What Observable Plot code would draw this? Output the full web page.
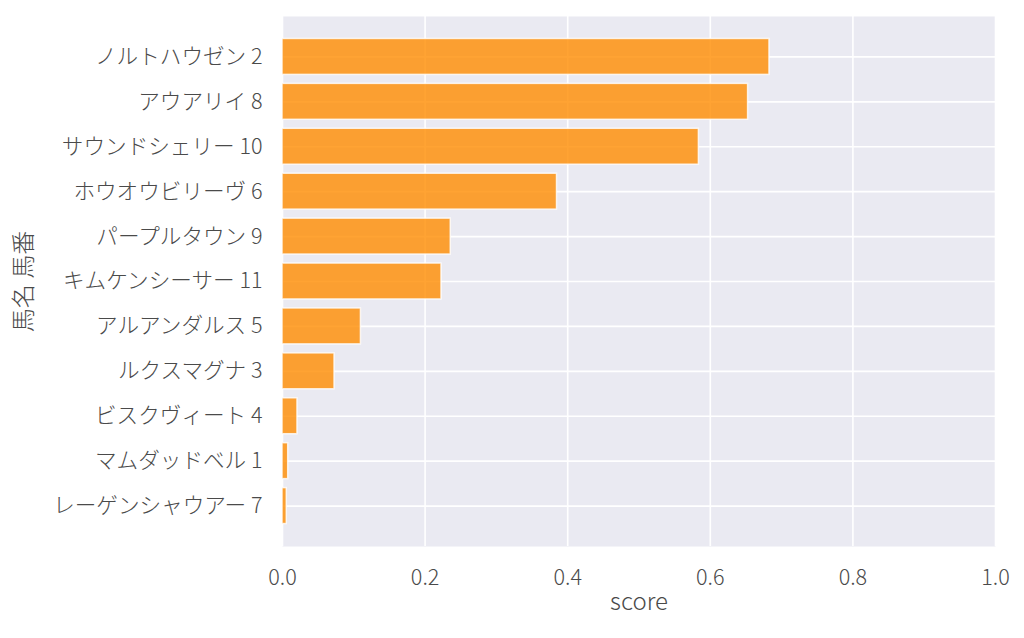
<!DOCTYPE html>
<html>
<head>
<meta charset="utf-8">
<script src="https://cdn.jsdelivr.net/npm/d3@7"></script>
<script src="https://cdn.jsdelivr.net/npm/@observablehq/plot@0.6"></script>
<style>
  html, body { margin: 0; padding: 0; background: white; }
  #chart { width: 1024px; height: 638px; }
</style>
</head>
<body>
<div id="chart"></div>
<script>
const horses = [
  "ノルトハウゼン 2",
  "アウアリイ 8",
  "サウンドシェリー 10",
  "ホウオウビリーヴ 6",
  "パープルタウン 9",
  "キムケンシーサー 11",
  "アルアンダルス 5",
  "ルクスマグナ 3",
  "ビスクヴィート 4",
  "マムダッドベル 1",
  "レーゲンシャウアー 7"
];
const scores = [0.683, 0.653, 0.584, 0.385, 0.236, 0.223, 0.110, 0.073, 0.021, 0.008, 0.006];
const xTicks = [0, 0.2, 0.4, 0.6, 0.8, 1.0];
const xLabel = "score";
const yLabel = "馬名 馬番";

const data = horses.map((h, i) => ({horse: h, score: scores[i]}));

const chart = Plot.plot({
  width: 1024,
  height: 638,
  marginLeft: 282,
  marginRight: 29,
  marginTop: 16,
  marginBottom: 92,
  style: {
    fontFamily: "'Noto Sans CJK JP Light', 'Noto Sans CJK JP DemiLight', 'Noto Sans CJK JP', sans-serif",
    fontSize: "21.6px",
    fontWeight: 300,
    color: "#4a4a4a",
    background: "white"
  },
  x: {domain: [0, 1]},
  y: {domain: horses, paddingInner: 0.2, paddingOuter: 0.5, round: false},
  marks: [
    Plot.frame({fill: "#EAEAF2", stroke: "none"}),
    Plot.gridX(xTicks, {stroke: "white", strokeOpacity: 1, strokeWidth: 1.6}),
    Plot.gridY(horses, {stroke: "white", strokeOpacity: 1, strokeWidth: 1.6}),
    Plot.barX(data, {x: "score", y: "horse", fill: "#ff8c00", fillOpacity: 0.8, stroke: "white", strokeOpacity: 0.8, strokeWidth: 1.5}),
    Plot.axisX(xTicks, {tickSize: 0, tickPadding: 23, tickFormat: d3.format(".1f"), label: null}),
    Plot.axisY({tickSize: 0, tickPadding: 20, label: null}),
    Plot.text([xLabel], {frameAnchor: "bottom", dy: 63, fontSize: 24, fill: "#4a4a4a"}),
    Plot.text([yLabel], {frameAnchor: "left", textAnchor: "middle", dx: -258, rotate: -90, fontSize: 24, fill: "#4a4a4a"})
  ]
});
document.getElementById("chart").appendChild(chart);
</script>
</body>
</html>
